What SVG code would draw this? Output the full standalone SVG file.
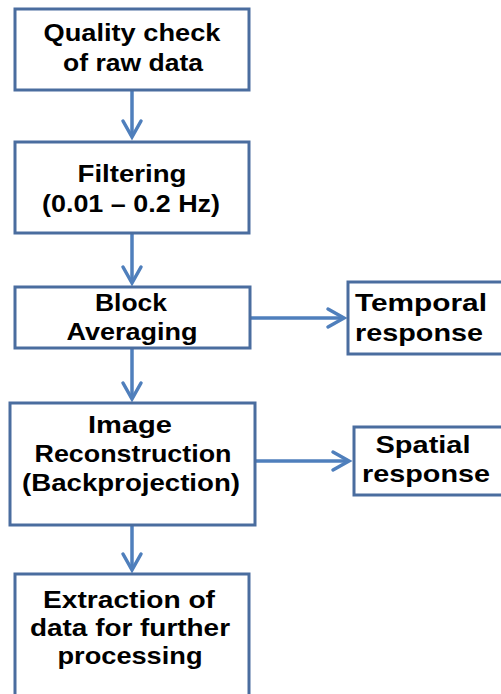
<svg xmlns="http://www.w3.org/2000/svg" width="501" height="694" viewBox="0 0 501 694">
  <style>
    .box { fill: #ffffff; stroke: #4a6d9f; stroke-width: 3; }
    .lbl { font-family: "Liberation Sans", Arial, sans-serif; font-weight: bold; font-size: 24px; fill: #000000; text-anchor: middle; }
    .link { fill: none; stroke: #4f7fbc; stroke-width: 3.5; }
    .head { fill: none; stroke: #4f7fbc; stroke-width: 3.5; stroke-linecap: round; stroke-linejoin: miter; }
  </style>
  <rect width="501" height="694" fill="#ffffff"/>

  <g id="connectors">
    <line class="link" x1="132" y1="90" x2="132" y2="137"/>
    <polyline class="head" points="123,121 132,137 141,121"/>
    <line class="link" x1="132" y1="233" x2="132" y2="283"/>
    <polyline class="head" points="123,267 132,283 141,267"/>
    <line class="link" x1="132" y1="348" x2="132" y2="399"/>
    <polyline class="head" points="123,383 132,399 141,383"/>
    <line class="link" x1="132" y1="525" x2="132" y2="570"/>
    <polyline class="head" points="123,554 132,570 141,554"/>
    <line class="link" x1="250" y1="318" x2="344" y2="318"/>
    <polyline class="head" points="328,309 344,318 328,327"/>
    <line class="link" x1="255" y1="461" x2="349" y2="461"/>
    <polyline class="head" points="333,452 349,461 333,470"/>
  </g>

  <g id="quality-check">
    <rect class="box" x="15" y="9" width="234" height="81"/>
    <text class="lbl" x="132" y="41" textLength="177" lengthAdjust="spacingAndGlyphs">Quality check</text>
    <text class="lbl" x="133" y="71" textLength="140" lengthAdjust="spacingAndGlyphs">of raw data</text>
  </g>

  <g id="filtering">
    <rect class="box" x="15" y="142" width="234" height="91"/>
    <text class="lbl" x="132" y="182" textLength="109" lengthAdjust="spacingAndGlyphs">Filtering</text>
    <text class="lbl" x="131" y="212" textLength="178" lengthAdjust="spacingAndGlyphs">(0.01 – 0.2 Hz)</text>
  </g>

  <g id="block-averaging">
    <rect class="box" x="15" y="287" width="235" height="61"/>
    <text class="lbl" x="131" y="311" textLength="72" lengthAdjust="spacingAndGlyphs">Block</text>
    <text class="lbl" x="132" y="340" textLength="131" lengthAdjust="spacingAndGlyphs">Averaging</text>
  </g>

  <g id="temporal-response">
    <rect class="box" x="348" y="282" width="162" height="72"/>
    <text class="lbl" x="421" y="311" textLength="132" lengthAdjust="spacingAndGlyphs">Temporal</text>
    <text class="lbl" x="419" y="341" textLength="128" lengthAdjust="spacingAndGlyphs">response</text>
  </g>

  <g id="image-reconstruction">
    <rect class="box" x="10" y="403" width="245" height="122"/>
    <text class="lbl" x="130" y="433" textLength="84" lengthAdjust="spacingAndGlyphs">Image</text>
    <text class="lbl" x="133" y="462" textLength="197" lengthAdjust="spacingAndGlyphs">Reconstruction</text>
    <text class="lbl" x="131" y="491" textLength="218" lengthAdjust="spacingAndGlyphs">(Backprojection)</text>
  </g>

  <g id="spatial-response">
    <rect class="box" x="354" y="427" width="155" height="68"/>
    <text class="lbl" x="423" y="453" textLength="95" lengthAdjust="spacingAndGlyphs">Spatial</text>
    <text class="lbl" x="426" y="482" textLength="128" lengthAdjust="spacingAndGlyphs">response</text>
  </g>

  <g id="extraction">
    <rect class="box" x="15" y="574" width="234" height="130"/>
    <text class="lbl" x="129" y="608" textLength="172" lengthAdjust="spacingAndGlyphs">Extraction of</text>
    <text class="lbl" x="130" y="636" textLength="200" lengthAdjust="spacingAndGlyphs">data for further</text>
    <text class="lbl" x="130" y="664" textLength="145" lengthAdjust="spacingAndGlyphs">processing</text>
  </g>
</svg>
